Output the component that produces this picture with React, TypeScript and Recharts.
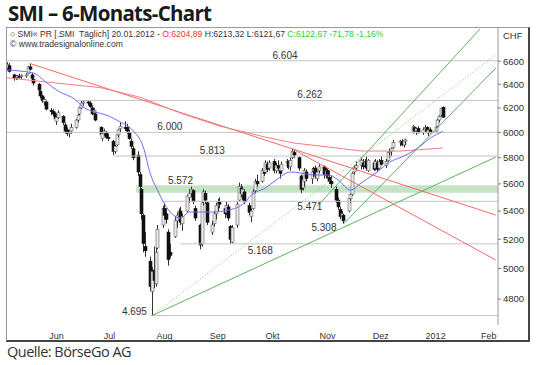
import React from "react";
import {
  ComposedChart,
  Bar,
  Line,
  XAxis,
  YAxis,
  ReferenceLine,
  ReferenceArea,
  ReferenceDot,
} from "recharts";

// daily bars, SMI
const barDates = [
  "2011-05-19", "2011-05-20", "2011-05-23", "2011-05-24", "2011-05-25", "2011-05-26", "2011-05-27", "2011-05-30", "2011-05-31",
  "2011-06-01", "2011-06-02", "2011-06-03", "2011-06-06", "2011-06-07", "2011-06-08", "2011-06-09", "2011-06-10", "2011-06-13",
  "2011-06-14", "2011-06-15", "2011-06-16", "2011-06-17", "2011-06-20", "2011-06-21", "2011-06-22", "2011-06-23", "2011-06-24",
  "2011-06-27", "2011-06-28", "2011-06-29", "2011-06-30", "2011-07-01", "2011-07-04", "2011-07-05", "2011-07-06", "2011-07-07",
  "2011-07-08", "2011-07-11", "2011-07-12", "2011-07-13", "2011-07-14", "2011-07-15", "2011-07-18", "2011-07-19", "2011-07-20",
  "2011-07-21", "2011-07-22", "2011-07-25", "2011-07-26", "2011-07-27", "2011-07-28", "2011-07-29", "2011-08-01", "2011-08-02",
  "2011-08-03", "2011-08-04", "2011-08-05", "2011-08-08", "2011-08-09", "2011-08-10", "2011-08-11", "2011-08-12", "2011-08-15",
  "2011-08-16", "2011-08-17", "2011-08-18", "2011-08-19", "2011-08-22", "2011-08-23", "2011-08-24", "2011-08-25", "2011-08-26",
  "2011-08-29", "2011-08-30", "2011-08-31", "2011-09-01", "2011-09-02", "2011-09-05", "2011-09-06", "2011-09-07", "2011-09-08",
  "2011-09-09", "2011-09-12", "2011-09-13", "2011-09-14", "2011-09-15", "2011-09-16", "2011-09-19", "2011-09-20", "2011-09-21",
  "2011-09-22", "2011-09-23", "2011-09-26", "2011-09-27", "2011-09-28", "2011-09-29", "2011-09-30", "2011-10-03", "2011-10-04",
  "2011-10-05", "2011-10-06", "2011-10-07", "2011-10-10", "2011-10-11", "2011-10-12", "2011-10-13", "2011-10-14", "2011-10-17",
  "2011-10-18", "2011-10-19", "2011-10-20", "2011-10-21", "2011-10-24", "2011-10-25", "2011-10-26", "2011-10-27", "2011-10-28",
  "2011-10-31", "2011-11-01", "2011-11-02", "2011-11-03", "2011-11-04", "2011-11-07", "2011-11-08", "2011-11-09", "2011-11-10",
  "2011-11-11", "2011-11-14", "2011-11-15", "2011-11-16", "2011-11-17", "2011-11-18", "2011-11-21", "2011-11-22", "2011-11-23",
  "2011-11-24", "2011-11-25", "2011-11-28", "2011-11-29", "2011-11-30", "2011-12-01", "2011-12-02", "2011-12-05", "2011-12-06",
  "2011-12-07", "2011-12-08", "2011-12-09", "2011-12-12", "2011-12-13", "2011-12-14", "2011-12-15", "2011-12-16", "2011-12-19",
  "2011-12-20", "2011-12-21", "2011-12-22", "2011-12-23", "2011-12-27", "2011-12-28", "2011-12-29", "2011-12-30", "2012-01-03",
  "2012-01-04", "2012-01-05", "2012-01-06", "2012-01-09", "2012-01-10", "2012-01-11", "2012-01-12", "2012-01-13", "2012-01-16",
  "2012-01-17", "2012-01-18", "2012-01-19", "2012-01-20",
];
const opens = [
  6540, 6560, 6480, 6450, 6455, 6470, 6465, 6470, 6490, 6550, 6480, 6440, 6400, 6340, 6300, 6250, 6250, 6180, 6170, 6150,
  6090, 6120, 6130, 6060, 6020, 5990, 6010, 6040, 6100, 6150, 6200, 6240, 6250, 6240, 6200, 6160, 6150, 6040, 5950, 5990,
  6000, 5960, 5930, 5850, 5900, 5980, 6030, 6040, 6040, 6000, 5930, 5870, 5820, 5670, 5560, 5370, 5150, 5050, 4850, 4990,
  4900, 5140, 5300, 5420, 5380, 5250, 5110, 5220, 5330, 5360, 5400, 5310, 5400, 5500, 5530, 5550, 5420, 5300, 5170, 5470,
  5530, 5460, 5250, 5310, 5380, 5440, 5470, 5420, 5390, 5430, 5290, 5180, 5300, 5480, 5570, 5520, 5540, 5440, 5360, 5420,
  5550, 5620, 5620, 5690, 5690, 5750, 5720, 5770, 5700, 5740, 5700, 5700, 5760, 5770, 5730, 5800, 5840, 5800, 5660, 5570,
  5620, 5690, 5640, 5700, 5720, 5640, 5700, 5730, 5660, 5700, 5650, 5620, 5560, 5480, 5410, 5360, 5370, 5400, 5490, 5520,
  5690, 5720, 5740, 5760, 5740, 5770, 5700, 5760, 5720, 5760, 5720, 5780, 5740, 5780, 5840, 5850, 5880, 5920, 5930, 5900,
  5930, 6000, 6040, 6010, 6030, 6000, 6030, 6040, 6000, 6020, 6010, 6050, 6100, 6140, 6205,
];
const highs = [
  6590, 6585, 6490, 6475, 6480, 6490, 6485, 6495, 6560, 6580, 6500, 6460, 6410, 6360, 6310, 6290, 6260, 6200, 6190, 6165,
  6140, 6180, 6140, 6080, 6040, 6020, 6070, 6110, 6150, 6210, 6260, 6265, 6262, 6255, 6220, 6200, 6160, 6050, 6000, 6030,
  6010, 5990, 5940, 5900, 5990, 6030, 6080, 6090, 6070, 6020, 5950, 5890, 5850, 5690, 5570, 5380, 5250, 5080, 5010, 5150,
  5140, 5300, 5440, 5460, 5420, 5270, 5170, 5360, 5390, 5420, 5430, 5380, 5520, 5560, 5580, 5560, 5440, 5310, 5480, 5560,
  5550, 5470, 5330, 5400, 5460, 5490, 5500, 5440, 5470, 5450, 5300, 5300, 5470, 5610, 5600, 5580, 5560, 5460, 5420, 5560,
  5640, 5670, 5720, 5740, 5780, 5770, 5780, 5790, 5760, 5780, 5720, 5770, 5790, 5780, 5800, 5870, 5860, 5810, 5670, 5650,
  5720, 5710, 5720, 5730, 5740, 5700, 5750, 5740, 5720, 5720, 5700, 5660, 5580, 5500, 5430, 5400, 5380, 5510, 5530, 5690,
  5740, 5770, 5800, 5790, 5790, 5810, 5790, 5780, 5790, 5780, 5790, 5810, 5790, 5850, 5870, 5880, 5940, 5940, 5945, 5940,
  5950, 6060, 6050, 6040, 6050, 6040, 6060, 6050, 6030, 6040, 6050, 6110, 6140, 6200, 6213,
];
const lows = [
  6520, 6500, 6430, 6435, 6440, 6450, 6445, 6455, 6485, 6520, 6430, 6390, 6330, 6280, 6240, 6220, 6180, 6140, 6130, 6100,
  6060, 6110, 6060, 5990, 5970, 5960, 5990, 6030, 6080, 6140, 6190, 6220, 6220, 6200, 6140, 6140, 6090, 5970, 5930, 5970,
  5950, 5930, 5820, 5830, 5890, 5960, 6000, 6010, 5990, 5940, 5870, 5780, 5660, 5560, 5340, 5110, 5080, 4850, 4695, 4870,
  4880, 5130, 5280, 5340, 5310, 5020, 5070, 5210, 5280, 5330, 5300, 5260, 5390, 5460, 5500, 5450, 5330, 5130, 5150, 5440,
  5450, 5300, 5230, 5290, 5340, 5400, 5420, 5350, 5370, 5330, 5168, 5170, 5280, 5470, 5500, 5480, 5450, 5370, 5320, 5410,
  5530, 5580, 5610, 5660, 5680, 5690, 5700, 5680, 5680, 5700, 5640, 5690, 5720, 5710, 5700, 5790, 5800, 5700, 5530, 5550,
  5580, 5620, 5600, 5650, 5640, 5620, 5680, 5640, 5640, 5640, 5600, 5570, 5460, 5410, 5340, 5330, 5308, 5390, 5460, 5510,
  5670, 5700, 5710, 5710, 5720, 5700, 5690, 5700, 5700, 5690, 5710, 5740, 5720, 5770, 5800, 5810, 5870, 5890, 5890, 5880,
  5900, 5990, 6000, 5980, 5990, 5980, 6000, 5990, 5970, 5990, 6000, 6040, 6080, 6130, 6122,
];
const closes = [
  6570, 6510, 6450, 6460, 6470, 6460, 6475, 6480, 6550, 6530, 6450, 6410, 6350, 6300, 6260, 6270, 6190, 6170, 6150, 6110,
  6120, 6160, 6080, 6010, 5990, 6000, 6040, 6100, 6140, 6200, 6240, 6250, 6240, 6210, 6150, 6180, 6100, 5985, 5990, 6010,
  5960, 5950, 5850, 5890, 5980, 6020, 6050, 6030, 6010, 5950, 5890, 5800, 5690, 5580, 5380, 5170, 5120, 4880, 4980, 4920,
  5110, 5270, 5420, 5370, 5340, 5060, 5090, 5330, 5370, 5400, 5320, 5360, 5510, 5530, 5560, 5470, 5350, 5160, 5460, 5540,
  5480, 5320, 5300, 5380, 5440, 5470, 5450, 5380, 5440, 5350, 5200, 5280, 5450, 5580, 5530, 5560, 5470, 5390, 5400, 5540,
  5620, 5600, 5700, 5680, 5760, 5710, 5760, 5700, 5740, 5720, 5680, 5750, 5770, 5730, 5780, 5850, 5820, 5720, 5560, 5630,
  5700, 5640, 5690, 5710, 5660, 5690, 5730, 5670, 5700, 5660, 5620, 5600, 5480, 5430, 5360, 5380, 5330, 5490, 5520, 5680,
  5720, 5740, 5780, 5730, 5770, 5720, 5780, 5710, 5770, 5710, 5770, 5750, 5770, 5840, 5850, 5870, 5920, 5930, 5900, 5930,
  5940, 6050, 6010, 6030, 6000, 6020, 6040, 6010, 6020, 6000, 6040, 6100, 6130, 6195, 6123,
];

// blue moving average
const maDates = [
  "2011-05-19", "2011-06-03", "2011-06-10", "2011-06-17", "2011-06-27", "2011-07-01", "2011-07-08", "2011-07-14", "2011-07-22",
  "2011-07-29", "2011-08-04", "2011-08-08", "2011-08-12", "2011-08-16", "2011-08-25", "2011-08-30", "2011-09-12", "2011-09-21",
  "2011-09-30", "2011-10-04", "2011-10-12", "2011-10-18", "2011-10-26", "2011-11-01", "2011-11-08", "2011-11-17", "2011-11-22",
  "2011-11-29", "2011-12-05", "2011-12-14", "2011-12-21", "2011-12-28", "2012-01-06", "2012-01-13", "2012-01-20",
];
const maValues = [
  6522, 6496, 6418, 6341, 6265, 6207, 6166, 6141, 6084, 6018, 5884, 5676, 5554, 5451, 5349, 5393, 5393, 5407, 5458, 5517,
  5570, 5629, 5690, 5682, 5667, 5667, 5629, 5554, 5607, 5690, 5766, 5806, 5876, 5954, 6008,
];

// red long moving average
const ma200Dates = [
  "2011-05-19", "2011-07-11", "2011-08-02", "2011-08-25", "2011-09-16", "2011-10-12", "2011-10-28", "2011-11-17", "2011-12-05",
  "2011-12-27", "2012-01-20",
];
const ma200Values = [6455, 6370, 6290, 6157, 6051, 5962, 5915, 5883, 5852, 5852, 5876];

// support / resistance levels
const levelValues = [6604, 6262, 6000, 5813, 5471, 5168, 4695];
const levelFrom = ["2011-05-19", "2011-06-27", "2011-05-19", "2011-07-18", "2011-08-15", "2011-08-25", "2011-08-08"];
const bandLow = 5535;
const bandHigh = 5590;
const bandFrom = "2011-07-31";

const levelLabels = ["6.604", "6.262", "6.000", "5.813", "5.572", "5.471", "5.308", "5.168", "4.695"];
const labelValues = [6604, 6262, 6000, 5813, 5572, 5471, 5308, 5168, 4695];
const labelDates = ["2011-10-23", "2011-11-06", "2011-08-19", "2011-09-12", "2011-08-25", "2011-11-06", "2011-11-14", "2011-10-09", "2011-07-30"];
const labelDy = [-2, -2, -2, -2, -4, 9, 7, 10, -1];

// trend lines [fromDate, fromValue, toDate, toValue]
const redTrends = [
  ["2011-06-01", 6580, "2012-02-19", 5371],
  ["2011-10-27", 5870, "2012-02-19", 5057],
];
const greenTrends = [
  ["2011-08-09", 4695, "2012-02-19", 5805],
  ["2011-11-10", 5432, "2012-02-10", 6890],
  ["2011-11-25", 5308, "2012-02-19", 6540],
];
const dottedTrends = [["2011-08-09", 4695, "2012-02-19", 6657]];

const monthStarts = ["2011-06-01", "2011-07-01", "2011-08-01", "2011-09-01", "2011-10-01", "2011-11-01", "2011-12-01", "2012-01-01", "2012-02-01"];
const monthLabelDates = ["2011-06-16", "2011-07-16", "2011-08-16", "2011-09-15", "2011-10-16", "2011-11-16", "2011-12-16", "2012-01-16", "2012-02-15"];
const monthLabels = ["Jun", "Jul", "Aug", "Sep", "Okt", "Nov", "Dez", "2012", "Feb"];

const priceTicks = [4800, 5000, 5200, 5400, 5600, 5800, 6000, 6200, 6400, 6600];

const day = (s: string) => {
  const [y, m, d] = s.split("-").map(Number);
  return (Date.UTC(y, m - 1, d) - Date.UTC(2011, 4, 1)) / 86400000;
};

const X_MIN = 18.1;
const X_MAX = 295.2;
const Y_MIN = 4636;
const Y_MAX = 6900;

const bars = barDates.map((s, i) => ({
  d: day(s),
  range: [lows[i], highs[i]],
  o: opens[i],
  h: highs[i],
  l: lows[i],
  c: closes[i],
}));
const maData = maDates.map((s, i) => ({ d: day(s), v: maValues[i] }));
const ma200Data = ma200Dates.map((s, i) => ({ d: day(s), v: ma200Values[i] }));
const labelByDay = new Map(monthLabelDates.map((s, i) => [day(s), monthLabels[i]]));

const font = "'Liberation Sans', Arial, sans-serif";

const Candle = (props: any) => {
  const { x, y, width, height, payload } = props;
  if (!payload) return null;
  const { o, h, l, c } = payload;
  const yTop = Math.min(y, y + height);
  const yBot = Math.max(y, y + height);
  const span = Math.log(h) - Math.log(l) || 1;
  const py = (p: number) => yTop + ((yBot - yTop) * (Math.log(h) - Math.log(p))) / span;
  const cx = Math.round(x + width / 2) + 0.5;
  const b1 = py(Math.max(o, c));
  const b2 = py(Math.min(o, c));
  const up = c >= o;
  return (
    <g>
      <line x1={cx} x2={cx} y1={yTop} y2={yBot} stroke="#333" strokeWidth={1} />
      <rect
        x={cx - 1.5}
        y={b1}
        width={3}
        height={Math.max(1, b2 - b1)}
        fill={up ? "#e8e8e8" : "#111"}
        stroke={up ? "#666" : "#111"}
        strokeWidth={0.6}
      />
    </g>
  );
};

const trendLine = (t: any[], key: string, color: string, dash?: string) => (
  <ReferenceLine
    key={key}
    segment={[
      { x: day(t[0]), y: t[1] },
      { x: day(t[2]), y: t[3] },
    ]}
    stroke={color}
    strokeWidth={1}
    strokeDasharray={dash}
    ifOverflow="hidden"
  />
);

export default function App() {
  return (
    <div style={{ position: "relative", width: 540, height: 365, background: "#fff", fontFamily: font }}>
      <style>{"body{margin:0}"}</style>
      <div
        style={{
          position: "absolute",
          left: 8,
          top: -1,
          fontFamily: "'Open Sans', sans-serif",
          fontWeight: 700,
          fontSize: 20.5,
          letterSpacing: -0.7,
          color: "#1a1a1a",
          lineHeight: "28px",
        }}
      >
        SMI – 6-Monats-Chart
      </div>
      <div
        style={{
          position: "absolute",
          left: 6,
          top: 27,
          width: 521,
          height: 312,
          borderTop: "1px solid #999",
          borderLeft: "1px solid #999",
          borderRight: "2px solid #444",
          borderBottom: "2px solid #444",
        }}
      />
      <div style={{ position: "absolute", left: 7, top: 28 }}>
        <ComposedChart width={521} height={312} data={bars} margin={{ top: 0, right: 0, bottom: 0, left: 0 }}>
          <XAxis
            xAxisId="marks"
            dataKey="d"
            type="number"
            domain={[X_MIN, X_MAX]}
            allowDataOverflow
            ticks={monthStarts.map(day)}
            tick={false}
            tickSize={2}
            tickLine={{ stroke: "#999" }}
            axisLine={{ stroke: "#aaa", strokeDasharray: "2 1" }}
            height={0}
          />
          <XAxis
            dataKey="d"
            type="number"
            domain={[X_MIN, X_MAX]}
            allowDataOverflow
            ticks={monthLabelDates.map(day)}
            tickFormatter={(v: number) => labelByDay.get(v) ?? ""}
            tick={{ fontSize: 9, fill: "#333", fontFamily: font }}
            tickLine={false}
            axisLine={false}
            tickMargin={2}
            height={15}
            interval={0}
          />
          <YAxis
            orientation="right"
            type="number"
            scale="log"
            domain={[Y_MIN, Y_MAX]}
            allowDataOverflow
            ticks={priceTicks}
            interval={0}
            width={30}
            tickSize={3}
            tickMargin={2}
            tick={{ fontSize: 9.5, fill: "#333", fontFamily: font }}
            tickLine={{ stroke: "#777" }}
            axisLine={{ stroke: "#999" }}
          />
          <ReferenceArea
            x1={day(bandFrom)}
            x2={X_MAX}
            y1={bandLow}
            y2={bandHigh}
            fill="#9ccf9c"
            fillOpacity={0.6}
            stroke="none"
            ifOverflow="hidden"
          />
          {levelValues.map((v, i) => (
            <ReferenceLine
              key={"lv" + i}
              segment={[
                { x: day(levelFrom[i]), y: v },
                { x: X_MAX, y: v },
              ]}
              stroke="#c4c4c4"
              strokeWidth={1}
              ifOverflow="hidden"
            />
          ))}
          {redTrends.map((t, i) => trendLine(t, "rt" + i, "#f36b6b"))}
          {greenTrends.map((t, i) => trendLine(t, "gt" + i, "#5fb35f"))}
          {dottedTrends.map((t, i) => trendLine(t, "dt" + i, "#7cc07c", "1 2"))}
          <Line
            data={ma200Data}
            dataKey="v"
            type="linear"
            stroke="#f28080"
            strokeWidth={1}
            dot={false}
            isAnimationActive={false}
          />
          <Line
            data={maData}
            dataKey="v"
            type="monotone"
            stroke="#6f6ff2"
            strokeWidth={1}
            dot={false}
            isAnimationActive={false}
          />
          <Bar dataKey="range" barSize={3} shape={<Candle />} isAnimationActive={false} />
          {levelLabels.map((t, i) => (
            <ReferenceDot
              key={"lb" + i}
              x={day(labelDates[i])}
              y={labelValues[i]}
              r={0}
              shape={(p: any) => (
                <text
                  x={p.cx}
                  y={p.cy + labelDy[i]}
                  textAnchor="middle"
                  fontSize={10}
                  fill="#333"
                  fontFamily={font}
                >
                  {t}
                </text>
              )}
            />
          ))}
        </ComposedChart>
      </div>
      <div style={{ position: "absolute", left: 10, top: 29, fontSize: 8.6, lineHeight: "10px", color: "#333", whiteSpace: "pre" }}>
        <span>{"○ SMI« PR [.SMI  Täglich] 20.01.2012 - "}</span>
        <span style={{ color: "#ee3333" }}>O:6204,89</span>
        <span>{" H:6213,32 L:6121,67 "}</span>
        <span style={{ color: "#33cc33" }}>C:6122,67 -71,78 -1,16%</span>
        <br />
        <span>© www.tradesignalonline.com</span>
      </div>
      <div style={{ position: "absolute", left: 503, top: 30, fontSize: 9.5, color: "#333" }}>CHF</div>
      <div
        style={{
          position: "absolute",
          left: 7,
          top: 342,
          fontFamily: "'Open Sans', sans-serif",
          fontSize: 14.5,
          letterSpacing: -0.5,
          color: "#333",
        }}
      >
        Quelle: BörseGo AG
      </div>
    </div>
  );
}
